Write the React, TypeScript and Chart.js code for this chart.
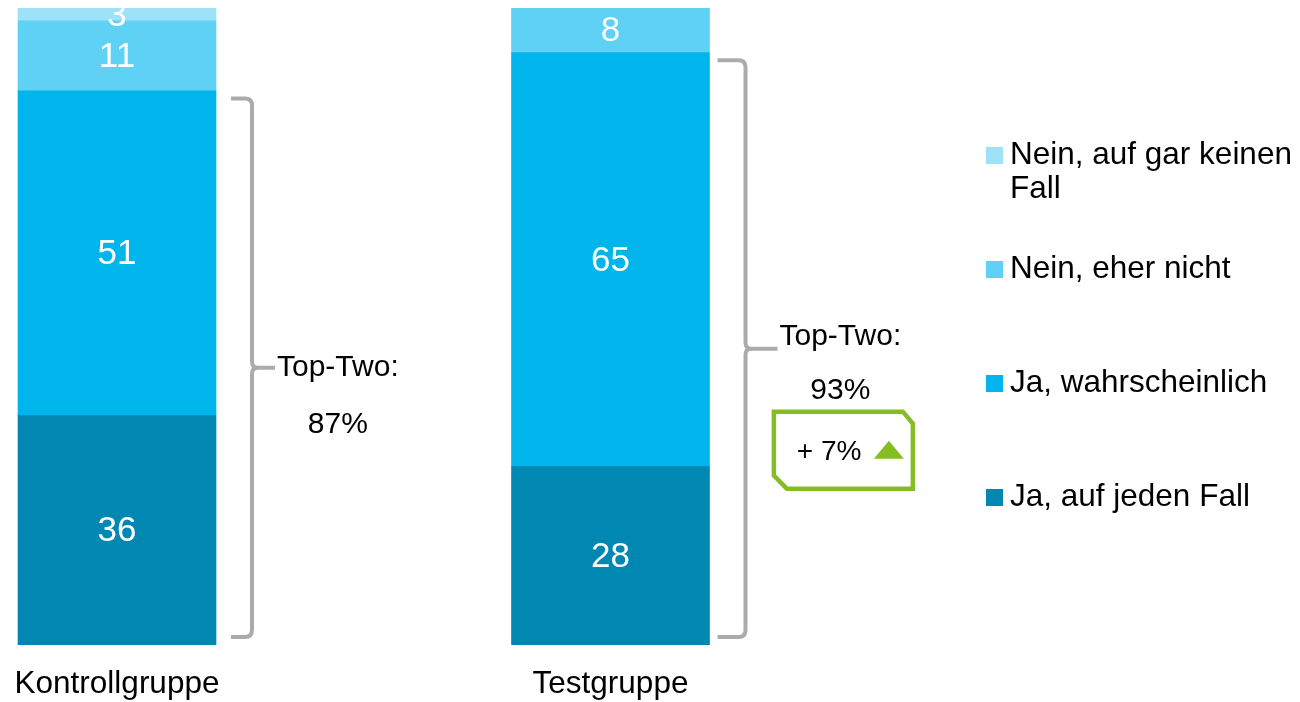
import React, { useEffect, useRef } from "react";
import { Chart, registerables } from "chart.js";

Chart.register(...registerables);

const FONT = "'Liberation Sans', Arial, sans-serif";

// ---- data ----
const categories = ["Kontrollgruppe", "Testgruppe"];
const seriesNames = [
  "Ja, auf jeden Fall",
  "Ja, wahrscheinlich",
  "Nein, eher nicht",
  "Nein, auf gar keinen Fall",
];
const jaAufJedenFall = [36, 28];
const jaWahrscheinlich = [51, 65];
const neinEherNicht = [11, 8];
const neinAufGarKeinenFall = [3, 0];
const topTwoLabels = ["87%", "93%"];
const changeLabel = "+ 7%";
const seriesColors = ["#0088b3", "#00b5ec", "#5fd1f4", "#9de2f6"];

const seriesValues = [jaAufJedenFall, jaWahrscheinlich, neinEherNicht, neinAufGarKeinenFall];

// ---- annotation layout (pixel offsets relative to bars) ----
const bracketLayout = [
  { left: 15, stem: 36, tip: 59, titleDy: 0, valueDy: 57, badge: false },
  { left: 8, stem: 36, tip: 68, titleDy: -12, valueDy: 42, badge: true },
];

const valueLabelsPlugin = {
  id: "valueLabels",
  afterDatasetsDraw(chart: any) {
    const { ctx, chartArea } = chart;
    ctx.save();
    ctx.beginPath();
    ctx.rect(0, chartArea.top, chart.width, chartArea.bottom - chartArea.top);
    ctx.clip();
    ctx.fillStyle = "#ffffff";
    ctx.font = `35px ${FONT}`;
    ctx.textAlign = "center";
    ctx.textBaseline = "middle";
    chart.data.datasets.forEach((ds: any, di: number) => {
      const meta = chart.getDatasetMeta(di);
      meta.data.forEach((el: any, i: number) => {
        const v = ds.data[i];
        if (!v) return;
        const top = Math.max(Math.min(el.y, el.base), chartArea.top);
        const bot = Math.min(Math.max(el.y, el.base), chartArea.bottom);
        if (bot <= top) return;
        ctx.fillText(String(v), el.x, (top + bot) / 2 + 1.5);
      });
    });
    ctx.restore();
  },
};

const bracketPlugin = {
  id: "brackets",
  afterDatasetsDraw(chart: any) {
    const { ctx } = chart;
    const yScale = chart.scales.y;
    const meta = chart.getDatasetMeta(0);
    ctx.save();
    meta.data.forEach((el: any, i: number) => {
      const cfg = bracketLayout[i];
      const topTwo = jaAufJedenFall[i] + jaWahrscheinlich[i];
      const right = el.x + el.width / 2;
      const lx = right + cfg.left;
      const sx = right + cfg.stem;
      const tipX = right + cfg.tip;
      const yTop = yScale.getPixelForValue(topTwo - 1.2);
      const yBot = yScale.getPixelForValue(1.25);
      const mid = (yTop + yBot) / 2;
      const r = 7;
      ctx.strokeStyle = "#ababab";
      ctx.lineWidth = 4;
      ctx.lineJoin = "round";
      ctx.beginPath();
      ctx.moveTo(lx, yTop);
      ctx.lineTo(sx - r, yTop);
      ctx.quadraticCurveTo(sx, yTop, sx, yTop + r);
      ctx.lineTo(sx, mid - 6);
      ctx.quadraticCurveTo(sx, mid, sx + 6, mid);
      ctx.lineTo(tipX, mid);
      ctx.moveTo(sx + 6, mid);
      ctx.quadraticCurveTo(sx, mid, sx, mid + 6);
      ctx.lineTo(sx, yBot - r);
      ctx.quadraticCurveTo(sx, yBot, sx - r, yBot);
      ctx.lineTo(lx, yBot);
      ctx.stroke();

      ctx.fillStyle = "#000000";
      ctx.font = `30px ${FONT}`;
      ctx.textBaseline = "middle";
      ctx.textAlign = "left";
      const title = "Top-Two:";
      const tx = tipX + 2;
      ctx.fillText(title, tx, mid + cfg.titleDy);
      const tw = ctx.measureText(title).width;
      const cx = tx + tw / 2;
      ctx.textAlign = "center";
      ctx.fillText(topTwoLabels[i], cx, mid + cfg.valueDy);

      if (cfg.badge) {
        const w = 139;
        const h = 77;
        const bx = cx + 3;
        const L = bx - w / 2;
        const R = bx + w / 2;
        const T = mid + 63;
        const B = T + h;
        const green = "#86bc24";
        ctx.strokeStyle = green;
        ctx.lineWidth = 4.5;
        ctx.lineJoin = "miter";
        ctx.beginPath();
        ctx.moveTo(L, T);
        ctx.lineTo(R - 10, T);
        ctx.lineTo(R, T + 12);
        ctx.lineTo(R, B);
        ctx.lineTo(L + 13, B);
        ctx.lineTo(L, B - 13);
        ctx.closePath();
        ctx.stroke();
        ctx.fillStyle = "#000000";
        ctx.font = `28px ${FONT}`;
        ctx.textAlign = "left";
        ctx.fillText(changeLabel, L + 23, T + 41);
        ctx.fillStyle = green;
        ctx.beginPath();
        ctx.moveTo(L + 100, T + 47);
        ctx.lineTo(L + 115, T + 29);
        ctx.lineTo(L + 130, T + 47);
        ctx.closePath();
        ctx.fill();
      }
    });
    ctx.restore();
  },
};

const legendPlugin = {
  id: "sideLegend",
  afterDraw(chart: any) {
    const { ctx } = chart;
    ctx.save();
    ctx.font = `31.5px ${FONT}`;
    ctx.textAlign = "left";
    ctx.textBaseline = "middle";
    const sqX = 986;
    const sq = 17;
    const textX = 1010;
    const maxW = 288;
    const startY = 155.5;
    const step = 114;
    const lineH = 34;
    const n = seriesNames.length;
    for (let k = 0; k < n; k++) {
      const idx = n - 1 - k;
      const y = startY + k * step;
      ctx.fillStyle = seriesColors[idx];
      ctx.fillRect(sqX, y - sq / 2, sq, sq);
      const words = seriesNames[idx].split(" ");
      const lines: string[] = [];
      let cur = "";
      words.forEach((w) => {
        const test = cur ? cur + " " + w : w;
        if (ctx.measureText(test).width > maxW && cur) {
          lines.push(cur);
          cur = w;
        } else {
          cur = test;
        }
      });
      if (cur) lines.push(cur);
      ctx.fillStyle = "#000000";
      lines.forEach((ln, li) => ctx.fillText(ln, textX, y + li * lineH));
    }
    ctx.restore();
  },
};

export default function App() {
  const ref = useRef<HTMLCanvasElement>(null);
  useEffect(() => {
    if (!ref.current) return;
    const chart = new Chart(ref.current, {
      type: "bar",
      data: {
        labels: categories,
        datasets: seriesValues.map((vals, i) => ({
          label: seriesNames[i],
          data: vals,
          backgroundColor: seriesColors[i],
          borderWidth: 0,
          barThickness: 198,
          clip: { left: false, right: false, top: 0, bottom: 0 } as any,
        })),
      },
      options: {
        animation: false,
        responsive: true,
        maintainAspectRatio: false,
        layout: { padding: { left: 117, right: 689.5, top: 8, bottom: 0 } },
        plugins: {
          legend: { display: false },
          tooltip: { enabled: false },
        },
        scales: {
          x: {
            stacked: true,
            offset: false,
            grid: { display: false, drawTicks: true, tickLength: 17 },
            border: { display: false },
            ticks: {
              color: "#000000",
              font: { family: FONT, size: 31.5 },
              padding: 3,
              maxRotation: 0,
              autoSkip: false,
            },
            afterFit: (s: any) => {
              s.height = 57;
            },
          },
          y: {
            stacked: true,
            display: false,
            min: 0,
            max: 100,
          },
        },
      } as any,
      plugins: [valueLabelsPlugin, bracketPlugin, legendPlugin],
    });
    return () => chart.destroy();
  }, []);
  return (
    <div style={{ position: "absolute", left: 0, top: 0, width: 1300, height: 702 }}>
      <canvas ref={ref} />
    </div>
  );
}
